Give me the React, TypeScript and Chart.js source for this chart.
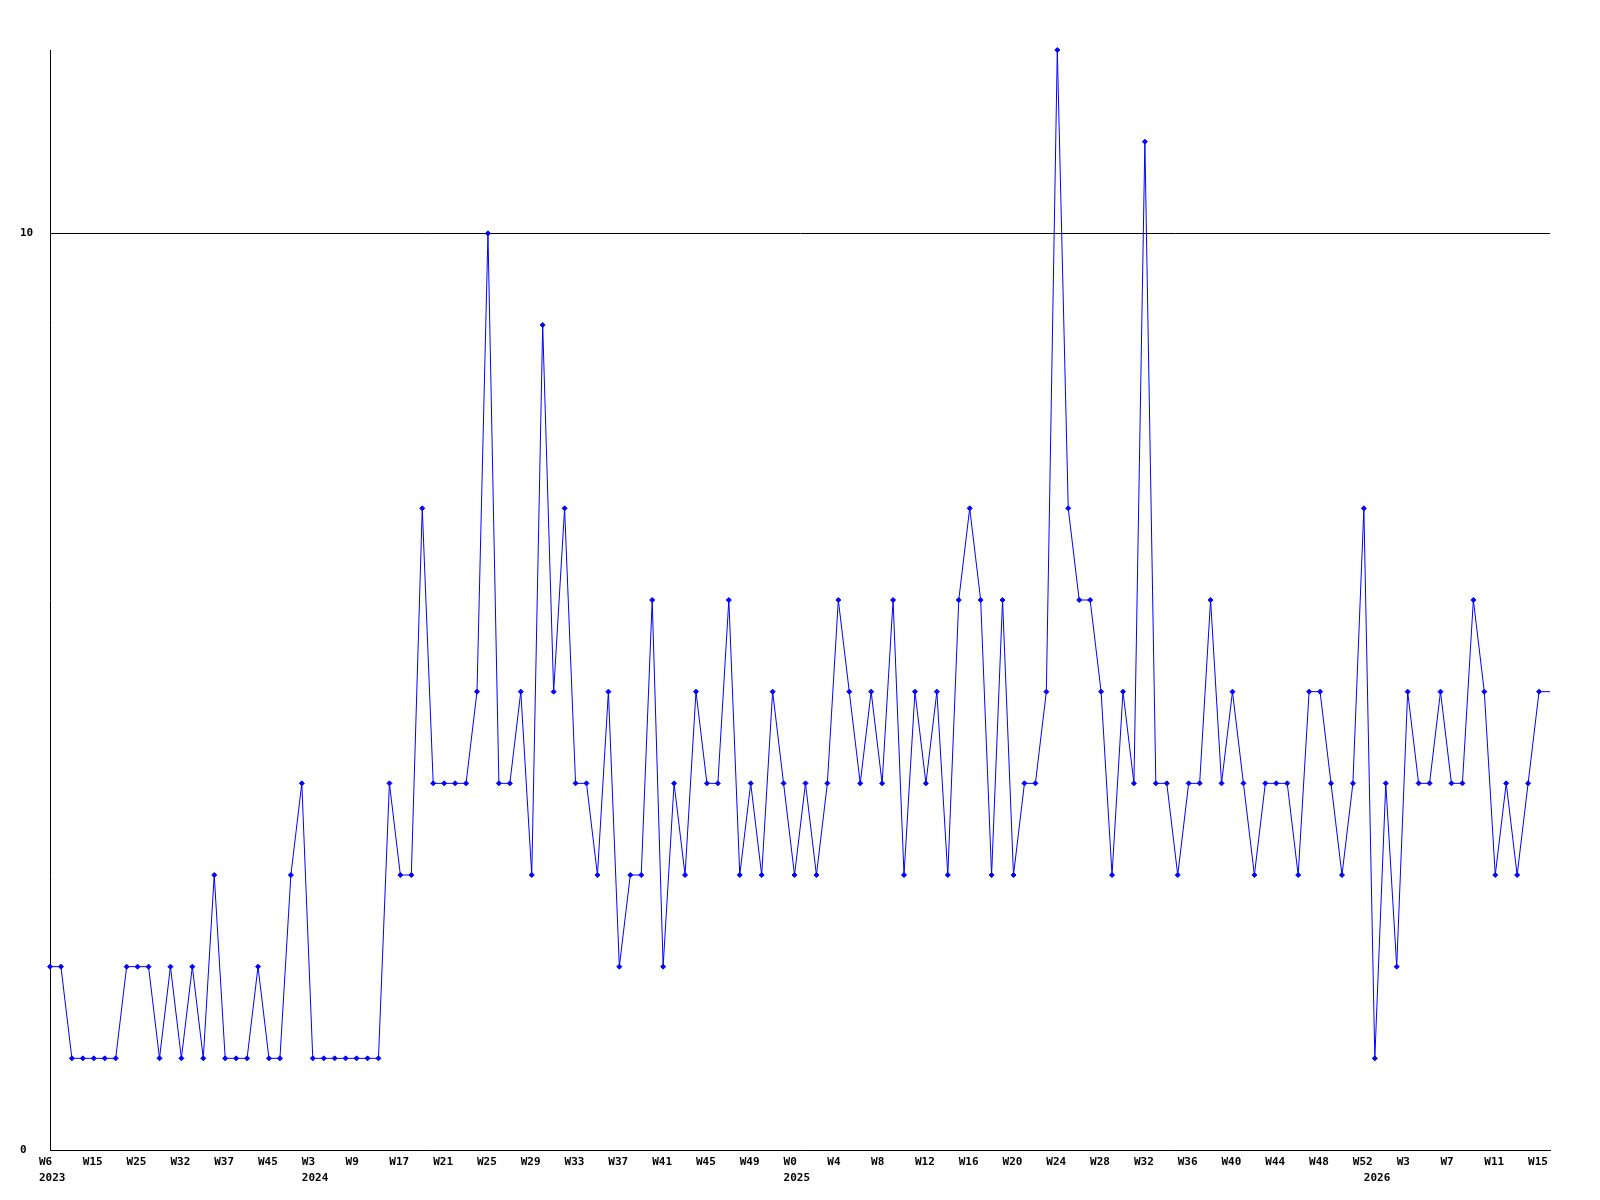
import React, { useEffect, useRef } from 'react';
import { Chart, registerables } from 'chart.js';

Chart.register(...registerables);

// One entry per data point: "year-week"
const categories: string[] = [
  '2023-W6', '2023-W8', '2023-W10', '2023-W13', '2023-W15', '2023-W17', '2023-W20', '2023-W22',
  '2023-W25', '2023-W27', '2023-W29', '2023-W30', '2023-W32', '2023-W33', '2023-W34', '2023-W36',
  '2023-W37', '2023-W39', '2023-W41', '2023-W43', '2023-W45', '2023-W47', '2023-W49', '2023-W51',
  '2024-W3', '2024-W4', '2024-W6', '2024-W7', '2024-W9', '2024-W11', '2024-W13', '2024-W15',
  '2024-W17', '2024-W18', '2024-W19', '2024-W20', '2024-W21', '2024-W22', '2024-W23', '2024-W24',
  '2024-W25', '2024-W26', '2024-W27', '2024-W28', '2024-W29', '2024-W30', '2024-W31', '2024-W32',
  '2024-W33', '2024-W34', '2024-W35', '2024-W36', '2024-W37', '2024-W38', '2024-W39', '2024-W40',
  '2024-W41', '2024-W42', '2024-W43', '2024-W44', '2024-W45', '2024-W46', '2024-W47', '2024-W48',
  '2024-W49', '2024-W50', '2024-W51', '2024-W52',
  '2025-W0', '2025-W1', '2025-W2', '2025-W3', '2025-W4', '2025-W5', '2025-W6', '2025-W7',
  '2025-W8', '2025-W9', '2025-W10', '2025-W11', '2025-W12', '2025-W13', '2025-W14', '2025-W15',
  '2025-W16', '2025-W17', '2025-W18', '2025-W19', '2025-W20', '2025-W21', '2025-W22', '2025-W23',
  '2025-W24', '2025-W25', '2025-W26', '2025-W27', '2025-W28', '2025-W29', '2025-W30', '2025-W31',
  '2025-W32', '2025-W33', '2025-W34', '2025-W35', '2025-W36', '2025-W37', '2025-W38', '2025-W39',
  '2025-W40', '2025-W41', '2025-W42', '2025-W43', '2025-W44', '2025-W45', '2025-W46', '2025-W47',
  '2025-W48', '2025-W49', '2025-W50', '2025-W51', '2025-W52',
  '2026-W0', '2026-W1', '2026-W2', '2026-W3', '2026-W4', '2026-W5', '2026-W6', '2026-W7',
  '2026-W8', '2026-W9', '2026-W10', '2026-W11', '2026-W12', '2026-W13', '2026-W14', '2026-W15',
  '2026-W16',
];

const values: number[] = [
  2, 2, 1, 1, 1, 1, 1, 2, 2, 2, 1, 2, 1, 2, 1, 3, 1, 1, 1, 2, 1, 1, 3, 4, 1, 1, 1, 1, 1, 1, 1,
  4, 3, 3, 7, 4, 4, 4, 4, 5, 10, 4, 4, 5, 3, 9, 5, 7,
  4, 4, 3, 5, 2, 3, 3, 6, 2, 4, 3, 5, 4, 4, 6, 3, 4, 3,
  5, 4, 3, 4, 3, 4, 6, 5, 4, 5, 4, 6, 3, 5, 4, 5, 3,
  6, 7, 6, 3, 6, 3, 4, 4, 5, 12, 7, 6, 6, 5, 3, 5, 4,
  11, 4, 4, 3, 4, 4, 6, 4, 5, 4, 3, 4, 4, 4, 3, 5, 5, 4,
  3, 4, 7, 1, 4, 2, 5, 4, 4, 5, 4, 4, 6, 5, 3, 4, 3, 4, 5, 5,
];

const yTicks: number[] = [0, 10];
const yMin = 0;
const yMax = 12;
const tickEvery = 4;

const FONT = { family: "'DejaVu Sans Mono', monospace", size: 11, weight: 'bold' as const, lineHeight: 1.38 };

export default function App() {
  const ref = useRef<HTMLCanvasElement | null>(null);

  useEffect(() => {
    if (!ref.current) return;
    const lastIndex = values.length - 1;
    const chart = new Chart(ref.current, {
      type: 'line',
      data: {
        labels: categories,
        datasets: [
          {
            data: values,
            borderColor: '#0000ff',
            backgroundColor: '#0000ff',
            borderWidth: 1,
            pointStyle: 'rectRot',
            pointRadius: (ctx: any) => (ctx.dataIndex === lastIndex ? 0 : 2.5),
            pointBorderWidth: 1,
            pointBorderColor: '#0000ff',
            pointBackgroundColor: '#0000ff',
            tension: 0,
            fill: false,
            clip: false as any,
          },
        ],
      },
      options: {
        responsive: false,
        animation: false,
        devicePixelRatio: 1,
        layout: { padding: { left: 20, right: 50, top: 50, bottom: 0 } },
        plugins: { legend: { display: false }, tooltip: { enabled: false }, title: { display: false } },
        scales: {
          x: {
            type: 'category',
            offset: false,
            grid: { display: false, drawTicks: false },
            border: { display: true, color: '#000000', width: 1 },
            afterFit: (s: any) => {
              s.height = 50;
            },
            ticks: {
              autoSkip: false,
              maxRotation: 0,
              minRotation: 0,
              align: 'start',
              labelOffset: -11,
              padding: 5,
              color: '#000000',
              font: FONT,
              callback: (_v: any, index: number) => {
                const [yr, wk] = categories[index].split('-');
                const prevYr = index > 0 ? categories[index - 1].split('-')[0] : null;
                const showWeek = index % tickEvery === 0;
                const showYear = yr !== prevYr;
                if (!showWeek && !showYear) return null;
                return [showWeek ? wk : '', showYear ? yr : ''];
              },
            },
          },
          y: {
            type: 'linear',
            min: yMin,
            max: yMax,
            afterBuildTicks: (s: any) => {
              s.ticks = yTicks.map((v) => ({ value: v }));
            },
            afterFit: (s: any) => {
              s.width = 30;
            },
            grid: { display: true, drawTicks: false, color: '#000000', lineWidth: 1 },
            border: { display: true, color: '#000000', width: 1 },
            ticks: {
              crossAlign: 'far',
              padding: 0,
              color: '#000000',
              font: { ...FONT, lineHeight: 1.2 },
            },
          },
        },
      },
    } as any);
    return () => chart.destroy();
  }, []);

  return (
    <div style={{ position: 'absolute', left: 0, top: 0, width: 1600, height: 1200, background: '#ffffff' }}>
      <canvas ref={ref} width={1600} height={1200} style={{ display: 'block', width: 1600, height: 1200 }} />
    </div>
  );
}
